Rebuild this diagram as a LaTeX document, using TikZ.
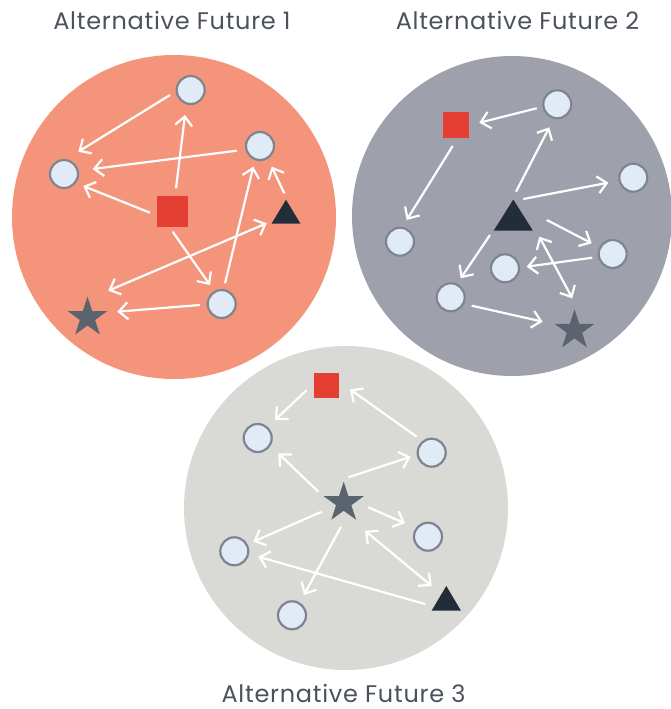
\documentclass[tikz,border=0pt]{standalone}
\usepackage{fontspec}
\setmainfont{Poppins}
\newfontfamily\ttlfont{Poppins}[LetterSpace=3]
\usetikzlibrary{arrows.meta,shapes.geometric,calc}
\definecolor{bgorange}{HTML}{F4957B}
\definecolor{bggray}{HTML}{9EA1AB}
\definecolor{bglight}{HTML}{D9D9D5}
\definecolor{ndfill}{HTML}{E0EBF5}
\definecolor{ndborder}{HTML}{7E8591}
\definecolor{sqred}{HTML}{E53E33}
\definecolor{trifill}{HTML}{232D39}
\definecolor{stargray}{HTML}{5B636F}
\definecolor{titlegray}{HTML}{4B525C}
\tikzset{
  nd/.style={circle,draw=ndborder,fill=ndfill,line width=2.2pt,minimum size=28pt,inner sep=0pt},
  sq/.style={rectangle,fill=sqred,inner sep=0pt,minimum size=#1},
  st/.style={star,star points=5,star point ratio=2.618,fill=stargray,inner sep=0pt,minimum size=42pt},
  arr/.style={draw=white,line width=2.2pt,-{Straight Barb[length=9pt,width=17pt]}},
  darr/.style={draw=white,line width=2.2pt,{Straight Barb[length=9pt,width=17pt]}-{Straight Barb[length=9pt,width=17pt]}},
  ttl/.style={text=titlegray,font=\ttlfont\fontsize{24}{28}\selectfont,inner sep=0pt,anchor=base}
}
\newcommand\mytri[5]{%
  \coordinate (#1) at (#2,#3);
  \fill[trifill] ($(#1)+(-#4/2,#5/2)$) -- ($(#1)+(#4/2,#5/2)$) -- ($(#1)+(0,-#5/2)$) -- cycle;}
\begin{document}
\begin{tikzpicture}[x=1pt,y=-1pt]
\useasboundingbox (0,0) rectangle (671,709);
% background discs
\fill[bgorange] (174,217) circle (162);
\fill[bggray] (512,216) circle (160);
\fill[bglight] (346,508) circle (162);
% titles
\node[ttl] (t1) at (172,30) {Alternative Future 1};
\node[ttl] (t2) at (517.5,30) {Alternative Future 2};
\node[ttl] (t3) at (343.5,702) {Alternative Future 3};

% ---------- Future 1 ----------
\node[nd] (a1) at (190.7,90) {};
\node[nd] (b1) at (64,174) {};
\node[nd] (c1) at (260,146) {};
\node[nd] (d1) at (221.7,304) {};
\node[sq=31pt] (s1) at (172.3,211.3) {};
\mytri{tr1}{286}{211.7}{29}{24}
\node[st] (st1) at (87.5,317.5) {};
\draw[arr] ($(a1)+(-20.7,5)$) -- ($(b1)+(14.3,-22.3)$);
\draw[arr] ($(c1)+(-23.3,4.7)$) -- ($(b1)+(28.7,-5)$);
\draw[arr] ($(s1)+(-22.3,1.4)$) -- ($(b1)+(19.3,12)$);
\draw[arr] ($(s1)+(3.7,-23)$) -- ($(a1)+(-5.7,25)$);
\draw[arr] ($(s1)+(0.4,20.4)$) -- ($(d1)+(-11.7,-19)$);
\draw[arr] ($(d1)+(3.3,-20.7)$) -- ($(c1)+(-6.7,20.7)$);
\draw[arr] ($(tr1)+(-1.7,-18.4)$) -- ($(c1)+(11.7,20.7)$);
\draw[darr] ($(st1)+(20.8,-26.8)$) -- ($(tr1)+(-19.3,11.6)$);
\draw[arr] ($(d1)+(-21.7,1)$) -- ($(st1)+(29.8,-5.8)$);

% ---------- Future 2 ----------
\node[nd] (p1) at (557.3,104.3) {};
\node[nd] (p2) at (633.3,177.7) {};
\node[nd] (p3) at (400,241.7) {};
\node[nd] (p4) at (505,268.3) {};
\node[nd] (p5) at (612.7,254) {};
\node[nd] (p6) at (450.7,297.3) {};
\node[sq=26pt] (s2) at (456,125) {};
\mytri{tr2}{513.3}{215}{39}{31}
\node[st] (st2) at (574.5,330.3) {};
\draw[arr] ($(p1)+(-20.6,4)$) -- ($(s2)+(23.3,-2.3)$);
\draw[arr] ($(s2)+(-3.3,21)$) -- ($(p3)+(6.7,-21.7)$);
\draw[arr] ($(tr2)+(2.7,-23.3)$) -- ($(p1)+(-8,23)$);
\draw[arr] ($(tr2)+(10,-16)$) -- ($(p2)+(-25,5)$);
\draw[arr] ($(tr2)+(33.4,5)$) -- ($(p5)+(-21,-10.7)$);
\draw[arr] ($(tr2)+(-23.3,20)$) -- ($(p6)+(10,-19)$);
\draw[arr] ($(p5)+(-20.4,3.7)$) -- ($(p4)+(21.7,-1.6)$);
\draw[darr] ($(tr2)+(26,21.7)$) -- ($(st2)+(-2.2,-32)$);
\draw[arr] ($(p6)+(21,8.4)$) -- ($(st2)+(-31.8,-8.6)$);

% ---------- Future 3 ----------
\node[sq=25pt] (s3) at (326.7,385.3) {};
\node[nd] (q1) at (257.7,438) {};
\node[nd] (q2) at (431.7,452.7) {};
\node[nd] (q3) at (428,536.7) {};
\node[nd] (q4) at (234.3,551.3) {};
\node[nd] (q5) at (292,615.3) {};
\node[st] (st3) at (343.7,502.7) {};
\mytri{tr3}{446.3}{598.3}{29.3}{24.7}
\draw[arr] ($(s3)+(-20,4.7)$) -- ($(q1)+(17.3,-18)$);
\draw[arr] ($(q2)+(-15,-16)$) -- ($(s3)+(23.3,4)$);
\draw[arr] ($(st3)+(-25.4,-11)$) -- ($(q1)+(20.6,15.3)$);
\draw[arr] ($(st3)+(4.6,-25.4)$) -- ($(q2)+(-21,4)$);
\draw[arr] ($(st3)+(24.6,4.6)$) -- ($(q3)+(-23,-13.4)$);
\draw[arr] ($(st3)+(-22,9)$) -- ($(q4)+(19,-9.6)$);
\draw[arr] ($(st3)+(-2.7,24)$) -- ($(q5)+(12,-20.3)$);
\draw[darr] ($(st3)+(21.3,28)$) -- ($(tr3)+(-14.6,-12.3)$);
\draw[arr] ($(tr3)+(-21.3,5.7)$) -- ($(q4)+(24,5.4)$);
\end{tikzpicture}
\end{document}
